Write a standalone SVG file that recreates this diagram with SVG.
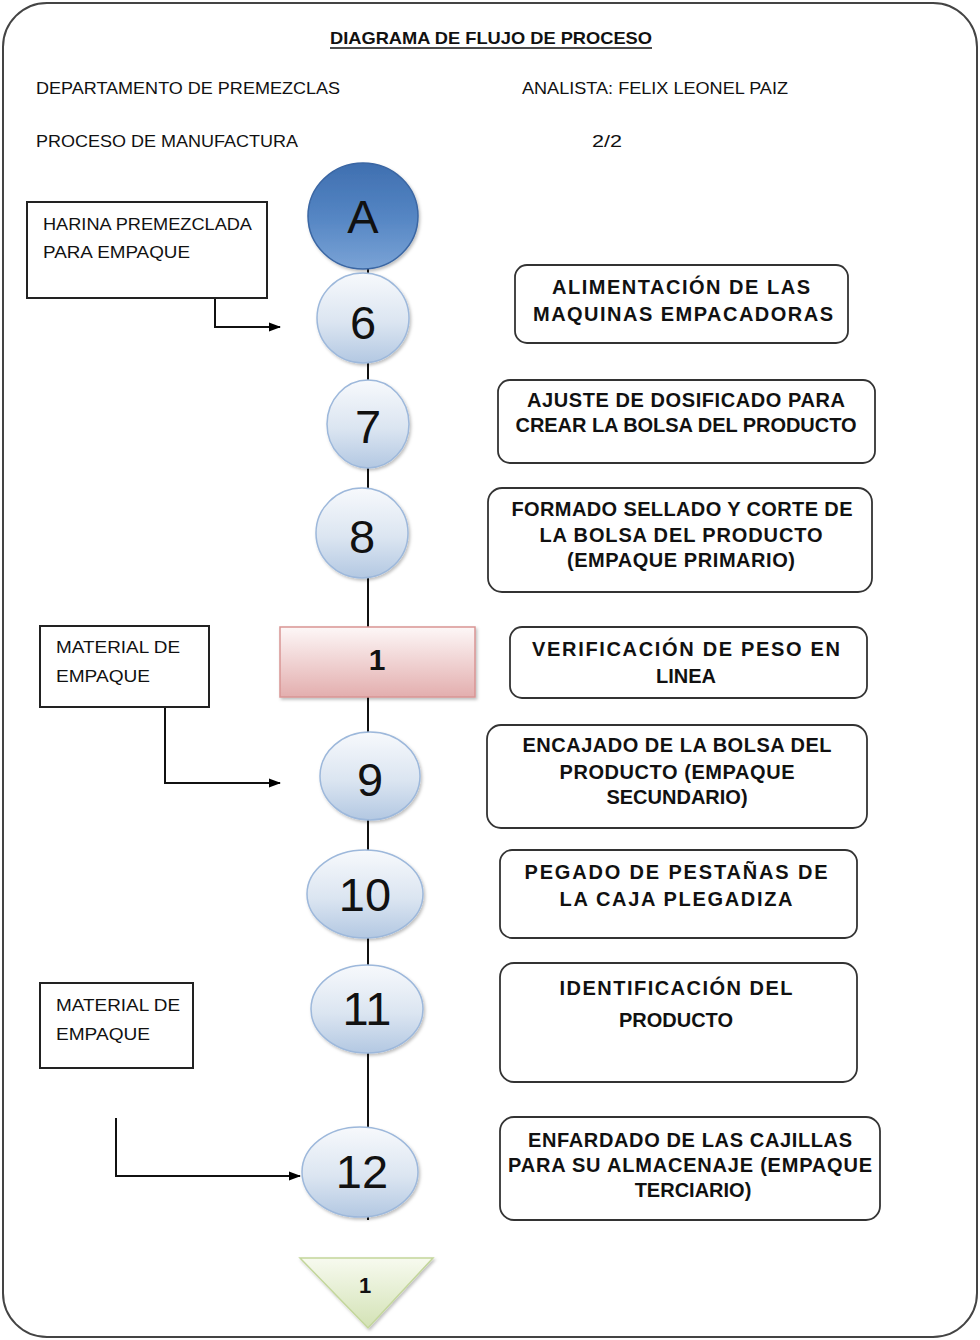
<svg xmlns="http://www.w3.org/2000/svg" width="980" height="1340" viewBox="0 0 980 1340">
<defs>
<linearGradient id="gBlue" x1="0" y1="0" x2="0" y2="1">
<stop offset="0" stop-color="#f7f9fc"/>
<stop offset="0.55" stop-color="#dbe5f1"/>
<stop offset="1" stop-color="#b3c8e2"/>
</linearGradient>
<linearGradient id="gDark" x1="0" y1="0" x2="0" y2="1">
<stop offset="0" stop-color="#3f6fb0"/>
<stop offset="0.5" stop-color="#5485c3"/>
<stop offset="1" stop-color="#7aa3d6"/>
</linearGradient>
<linearGradient id="gRed" x1="0" y1="0" x2="0" y2="1">
<stop offset="0" stop-color="#fdf7f7"/>
<stop offset="1" stop-color="#e3aeae"/>
</linearGradient>
<linearGradient id="gGreen" x1="0" y1="0" x2="0" y2="1">
<stop offset="0" stop-color="#f7faef"/>
<stop offset="1" stop-color="#d3e2b5"/>
</linearGradient>
<filter id="sh" x="-20%" y="-20%" width="140%" height="140%">
<feDropShadow dx="1.5" dy="2" stdDeviation="1.5" flood-color="#000" flood-opacity="0.25"/>
</filter>
<marker id="arr" markerWidth="12" markerHeight="12" refX="11" refY="6" orient="auto" markerUnits="userSpaceOnUse">
<path d="M0,1.5 L12,6 L0,10.5 Z" fill="#000"/>
</marker>
</defs>
<style>
.hdr{font-family:"Liberation Sans",Arial,sans-serif;font-size:17px;fill:#111;}
.bx{font-family:"Liberation Sans",Arial,sans-serif;font-size:16px;fill:#111;}
.box{fill:#fff;stroke:#222;stroke-width:2;}
.rbox{fill:#fff;stroke:#333;stroke-width:1.8;}
.lbl{font-family:"Liberation Sans",Arial,sans-serif;font-size:20px;font-weight:bold;fill:#111;text-anchor:middle;}
.circ{fill:url(#gBlue);stroke:#9db8db;stroke-width:1.5;}
.num{font-family:"Liberation Sans",Arial,sans-serif;font-size:47px;fill:#111;text-anchor:middle;}
.conn{fill:none;stroke:#111;stroke-width:2;}
</style>
<rect x="3" y="3" width="974" height="1334" rx="44" ry="44" fill="#fff" stroke="#444" stroke-width="2"/>

<g id="header">
<text class="hdr" x="330" y="44" textLength="322" lengthAdjust="spacingAndGlyphs" font-weight="bold">DIAGRAMA DE FLUJO DE PROCESO</text>
<line x1="330" y1="48" x2="652" y2="48" stroke="#111" stroke-width="1.5"/>
<text class="hdr" x="36" y="94" textLength="304" lengthAdjust="spacingAndGlyphs">DEPARTAMENTO DE PREMEZCLAS</text>
<text class="hdr" x="522" y="94" textLength="266" lengthAdjust="spacingAndGlyphs">ANALISTA: FELIX LEONEL PAIZ</text>
<text class="hdr" x="36" y="147" textLength="262" lengthAdjust="spacingAndGlyphs">PROCESO DE MANUFACTURA</text>
<text class="hdr" x="592" y="147" textLength="30" lengthAdjust="spacingAndGlyphs">2/2</text>
</g>

<g id="connectors">
<line class="conn" x1="368" y1="268" x2="368" y2="1220"/>
<polyline class="conn" points="215,297 215,327 280,327" marker-end="url(#arr)"/>
<line x1="153" y1="297" x2="215" y2="297" stroke="#111" stroke-width="3.5"/>
<polyline class="conn" points="165,707 165,783 280,783" marker-end="url(#arr)"/>
<polyline class="conn" points="116,1118 116,1176 300,1176" marker-end="url(#arr)"/>
</g>

<g id="box-harina">
<rect class="box" x="27" y="202" width="240" height="96"/>
<text class="bx" x="43" y="230" textLength="209" lengthAdjust="spacingAndGlyphs">HARINA PREMEZCLADA</text>
<text class="bx" x="43" y="258" textLength="147" lengthAdjust="spacingAndGlyphs">PARA EMPAQUE</text>
</g>
<g id="box-material1">
<rect class="box" x="40" y="626" width="169" height="81"/>
<text class="bx" x="56" y="653" textLength="124" lengthAdjust="spacingAndGlyphs">MATERIAL DE</text>
<text class="bx" x="56" y="682" textLength="94" lengthAdjust="spacingAndGlyphs">EMPAQUE</text>
</g>
<g id="box-material2">
<rect class="box" x="40" y="983" width="153" height="85"/>
<text class="bx" x="56" y="1011" textLength="124" lengthAdjust="spacingAndGlyphs">MATERIAL DE</text>
<text class="bx" x="56" y="1040" textLength="94" lengthAdjust="spacingAndGlyphs">EMPAQUE</text>
</g>

<g id="node-A">
<ellipse cx="363" cy="216" rx="55" ry="53" fill="url(#gDark)" stroke="#3a66a3" stroke-width="1.5" filter="url(#sh)"/>
<text class="num" x="363" y="233">A</text>
</g>
<g id="node-6">
<ellipse class="circ" cx="363" cy="318" rx="46" ry="45" filter="url(#sh)"/>
<text class="num" x="363" y="339">6</text>
</g>
<g id="node-7">
<ellipse class="circ" cx="368" cy="424" rx="41" ry="44" filter="url(#sh)"/>
<text class="num" x="368" y="443">7</text>
</g>
<g id="node-8">
<ellipse class="circ" cx="362" cy="533" rx="46" ry="45" filter="url(#sh)"/>
<text class="num" x="362" y="553">8</text>
</g>
<g id="node-insp1">
<rect x="280" y="627" width="195" height="70" fill="url(#gRed)" stroke="#d99594" stroke-width="1.5" filter="url(#sh)"/>
<text x="377" y="670" font-family="Liberation Sans,Arial,sans-serif" font-size="30" font-weight="bold" text-anchor="middle" fill="#111">1</text>
</g>
<g id="node-9">
<ellipse class="circ" cx="370" cy="776" rx="50" ry="44" filter="url(#sh)"/>
<text class="num" x="370" y="796">9</text>
</g>
<g id="node-10">
<ellipse class="circ" cx="365" cy="894" rx="58" ry="44" filter="url(#sh)"/>
<text class="num" x="365" y="911">10</text>
</g>
<g id="node-11">
<ellipse class="circ" cx="367" cy="1009" rx="56" ry="44" filter="url(#sh)"/>
<text class="num" x="367" y="1025">11</text>
</g>
<g id="node-12">
<ellipse class="circ" cx="360" cy="1172" rx="58" ry="45" filter="url(#sh)"/>
<text class="num" x="362" y="1188">12</text>
</g>
<g id="node-store1">
<polygon points="300,1258 433,1258 368,1328" fill="url(#gGreen)" stroke="#c3d69b" stroke-width="1.5" filter="url(#sh)"/>
<text x="365" y="1293" font-family="Liberation Sans,Arial,sans-serif" font-size="22" font-weight="bold" text-anchor="middle" fill="#111">1</text>
</g>

<g id="desc-6">
<rect class="rbox" x="515" y="265" width="333" height="78" rx="12"/>
<text class="lbl" x="681" y="294" textLength="258" lengthAdjust="spacing">ALIMENTACIÓN DE LAS</text>
<text class="lbl" x="683" y="321" textLength="300" lengthAdjust="spacing">MAQUINAS EMPACADORAS</text>
</g>
<g id="desc-7">
<rect class="rbox" x="498" y="380" width="377" height="83" rx="12"/>
<text class="lbl" x="686" y="407" textLength="318" lengthAdjust="spacing">AJUSTE DE DOSIFICADO PARA</text>
<text class="lbl" x="686" y="432" textLength="341" lengthAdjust="spacing">CREAR LA BOLSA DEL PRODUCTO</text>
</g>
<g id="desc-8">
<rect class="rbox" x="488" y="488" width="384" height="104" rx="14"/>
<text class="lbl" x="682" y="516" textLength="341" lengthAdjust="spacing">FORMADO SELLADO Y CORTE DE</text>
<text class="lbl" x="681" y="542" textLength="283" lengthAdjust="spacing">LA BOLSA DEL PRODUCTO</text>
<text class="lbl" x="681" y="567" textLength="228" lengthAdjust="spacing">(EMPAQUE PRIMARIO)</text>
</g>
<g id="desc-insp1">
<rect class="rbox" x="510" y="627" width="357" height="71" rx="12"/>
<text class="lbl" x="686" y="656" textLength="308" lengthAdjust="spacing">VERIFICACIÓN DE PESO EN</text>
<text class="lbl" x="686" y="683">LINEA</text>
</g>
<g id="desc-9">
<rect class="rbox" x="487" y="725" width="380" height="103" rx="14"/>
<text class="lbl" x="677" y="752" textLength="309" lengthAdjust="spacing">ENCAJADO DE LA BOLSA DEL</text>
<text class="lbl" x="677" y="779" textLength="235" lengthAdjust="spacing">PRODUCTO (EMPAQUE</text>
<text class="lbl" x="677" y="804">SECUNDARIO)</text>
</g>
<g id="desc-10">
<rect class="rbox" x="500" y="850" width="357" height="88" rx="12"/>
<text class="lbl" x="676" y="879" textLength="303" lengthAdjust="spacing">PEGADO DE PESTAÑAS DE</text>
<text class="lbl" x="676" y="906" textLength="233" lengthAdjust="spacing">LA CAJA PLEGADIZA</text>
</g>
<g id="desc-11">
<rect class="rbox" x="500" y="963" width="357" height="119" rx="14"/>
<text class="lbl" x="676" y="995" textLength="233" lengthAdjust="spacing">IDENTIFICACIÓN DEL</text>
<text class="lbl" x="676" y="1027">PRODUCTO</text>
</g>
<g id="desc-12">
<rect class="rbox" x="500" y="1117" width="380" height="103" rx="14"/>
<text class="lbl" x="690" y="1147" textLength="324" lengthAdjust="spacing">ENFARDADO DE LAS CAJILLAS</text>
<text class="lbl" x="690" y="1172" textLength="364" lengthAdjust="spacing">PARA SU ALMACENAJE (EMPAQUE</text>
<text class="lbl" x="693" y="1197">TERCIARIO)</text>
</g>
</svg>
